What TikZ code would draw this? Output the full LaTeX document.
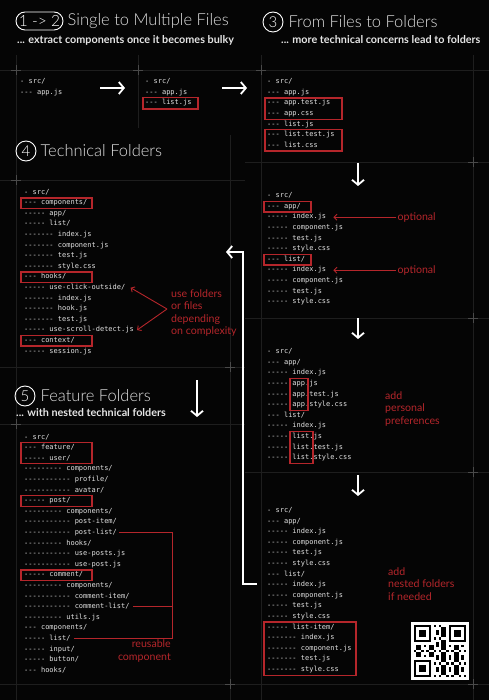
\documentclass[tikz,border=0pt]{standalone}
\usepackage{fontspec}
\usepackage{xcolor}
\usepackage{tikz}
\usetikzlibrary{positioning}
\usetikzlibrary{arrows.meta}

\newfontfamily\codefont{DejaVu Sans Mono}[Ligatures=TeXOff]
\newfontfamily\headfont{Lato Light}
\newfontfamily\notefont{Lato}

\definecolor{bgblack}{HTML}{050505}
\definecolor{codegray}{HTML}{E2E2E2}
\definecolor{markred}{HTML}{B5262B}
\definecolor{gridgray}{HTML}{1E1E1E}
\definecolor{crossgray}{HTML}{4A4A4A}

\begin{document}
\begin{tikzpicture}[
	x=1pt, y=-1pt,
	font=\codefont
]
\tikzset{
	codeline/.style = {anchor=west, inner sep=0pt, text height=5pt, text depth=1.5pt, text=codegray, font=\codefont\fontsize{7}{8}\selectfont},
	redbox/.style = {draw=markred, line width=1.1pt},
	notetext/.style = {text=markred, inner sep=1pt, align=left, font=\notefont\fontsize{10.6}{12.2}\selectfont},
	redarrow/.style = {draw=markred, line width=0.9pt, -{Straight Barb[length=3pt,width=6pt]}},
	redline/.style = {draw=markred, line width=0.9pt},
	whitearrow/.style = {draw=white, line width=1.8pt, -{Straight Barb[length=5pt,width=12pt]}},
	badge/.style = {draw=white, line width=0.9pt, circle, minimum size=20pt, inner sep=0pt, text=white, font=\headfont\fontsize{15}{15}\selectfont},
	pill/.style = {draw=white, line width=0.9pt, rounded corners=9pt, minimum width=47pt, minimum height=18pt, inner sep=0pt, text=white, font=\headfont\fontsize{15.5}{15}\selectfont},
	headtitle/.style = {anchor=west, inner sep=0pt, text=white!88!black, font=\headfont\fontsize{16.5}{18}\selectfont},
	subtitle/.style = {anchor=west, inner sep=0pt, text=white!90!black, font=\notefont\bfseries\fontsize{10.8}{12}\selectfont},
	gridline/.style = {draw=gridgray, line width=0.5pt},
	gridcross/.style = {draw=crossgray, line width=0.5pt}
}
\useasboundingbox (0,0) rectangle (489,700);
\fill[bgblack] (0,0) rectangle (489,700);

% layout grid
\draw[gridline] (0,70) -- (489,70);
\draw[gridline] (245,162) -- (489,162);
\draw[gridline] (0,180) -- (245,180);
\draw[gridline] (245,318) -- (489,318);
\draw[gridline] (0,367) -- (245,367);
\draw[gridline] (0,424) -- (245,424);
\draw[gridline] (245,472) -- (489,472);
\draw[gridline] (0,684) -- (489,684);
\foreach \gx in {16,261,473}
	\draw[gridline] (\gx,55) -- (\gx,700);
\draw[gridline] (138,55) -- (138,128);
\draw[gridline] (230,135) -- (230,700);
\foreach \cx/\cy in {16/70,138/70,261/70,473/162,16/180,473/318,230/367,16/424,473/472,230/684,473/684}
	\draw[gridcross] (\cx,\cy) ++(-5,0) -- ++(10,0) (\cx,\cy) ++(0,-5) -- ++(0,10);

% headings
\node[pill] (b12) at (39.5,21) {1 -> 2};
\node[headtitle, right=4pt of b12] (t12) {Single to Multiple Files};
\node[subtitle] (s12) at (17,40) {... extract components once it becomes bulky};
\node[badge] (b3) at (273,22) {3};
\node[headtitle, right=5pt of b3] (t3) {From Files to Folders};
\node[subtitle] (s3) at (281,40) {... more technical concerns lead to folders};
\node[badge] (b4) at (26,151) {4};
\node[headtitle, right=4pt of b4] (t4) {Technical Folders};
\node[badge] (b5) at (25,396) {5};
\node[headtitle, right=5pt of b5] (t5) {Feature Folders};
\node[subtitle] (s5) at (16,413) {... with nested technical folders};

% step 1 -> 2
\foreach \entry [count=\i] in {- src/, --- app.js}
	\node[codeline] (a-\i) at (20,{82+10.6*(\i-1)}) {\entry};
\foreach \entry [count=\i] in {- src/, --- app.js, --- list.js}
	\node[codeline] (b-\i) at (145,{82+10.6*(\i-1)}) {\entry};
\draw[redbox] (143,97.5) rectangle (198,109);
\coordinate (ar1s) at (100,88);
\coordinate (ar1e) at (125,88);
\coordinate (ar2s) at (222,88);
\coordinate (ar2e) at (247,88);
\draw[whitearrow] (ar1s) -- (ar1e);
\draw[whitearrow] (ar2s) -- (ar2e);

% step 3
\foreach \entry [count=\i] in {- src/, --- app.js, --- app.test.js, --- app.css, --- list.js, --- list.test.js, --- list.css}
	\node[codeline] (c-\i) at (267,{82+10.6*(\i-1)}) {\entry};
\draw[redbox] (265,98) rectangle (342,119.5);
\draw[redbox] (265,129.7) rectangle (342,151);

\coordinate (dn1s) at (358,163);
\coordinate (dn1e) at (358,186);
\draw[whitearrow] (dn1s) -- (dn1e);

\foreach \entry [count=\i] in {- src/, --- app/, ----- index.js, ----- component.js, ----- test.js, ----- style.css, --- list/, ----- index.js, ----- component.js, ----- test.js, ----- style.css}
	\node[codeline] (d-\i) at (267,{196+10.6*(\i-1)}) {\entry};
\draw[redbox] (264,201.5) rectangle (311,212);
\draw[redbox] (264,254.5) rectangle (311,265);
\node[notetext, right=70pt of d-3] (opt1) {optional};
\node[notetext, right=70pt of d-8] (opt2) {optional};
\draw[redarrow] (opt1.west) -- ([xshift=7pt]d-3.east);
\draw[redarrow] (opt2.west) -- ([xshift=7pt]d-8.east);

\coordinate (dn2s) at (358,318);
\coordinate (dn2e) at (358,339);
\draw[whitearrow] (dn2s) -- (dn2e);

\foreach \entry [count=\i] in {- src/, --- app/, ----- index.js, ----- app.js, ----- app.test.js, ----- app.style.css, --- list/, ----- index.js, ----- list.js, ----- list.test.js, ----- list.style.css}
	\node[codeline] (e-\i) at (267,{352+10.6*(\i-1)}) {\entry};
\draw[redbox] (290,378.5) rectangle (308,410.5);
\draw[redbox] (290,431.5) rectangle (313,463.5);
\node[notetext, anchor=west] (pref) at (384,409) {add\\personal\\preferences};

\coordinate (dn3s) at (358,475);
\coordinate (dn3e) at (358,496);
\draw[whitearrow] (dn3s) -- (dn3e);

\foreach \entry [count=\i] in {- src/, --- app/, ----- index.js, ----- component.js, ----- test.js, ----- style.css, --- list/, ----- index.js, ----- component.js, ----- test.js, ----- style.css, ----- list-item/, ------- index.js, ------- component.js, ------- test.js, ------- style.css}
	\node[codeline] (f-\i) at (267,{510.7+10.6*(\i-1)}) {\entry};
\draw[redbox] (264,622) rectangle (356,675.5);
\node[notetext, anchor=west] (nest) at (387,584) {add\\nested folders\\if needed};

% qr code
\fill[white] (411,622) rectangle (469,680);
\foreach \r in {0,...,20}
	\foreach \c in {0,...,20}{
		\pgfmathtruncatemacro{\qbit}{(mod(3*\r*\r+7*\c+5*\r*\c+\c*\c,5)<2)&&!((\r<8)&&(\c<8))&&!((\r<8)&&(\c>12))&&!((\r>12)&&(\c<8))}
		\ifnum\qbit=1 \fill[black] ({413.75+2.5*\c},{624.75+2.5*\r}) rectangle ++(2.5,2.5); \fi
	}
\foreach \fc/\fr in {0/0,14/0,0/14}{
	\fill[black] ({413.75+2.5*\fc},{624.75+2.5*\fr}) rectangle ++(17.5,17.5);
	\fill[white] ({416.25+2.5*\fc},{627.25+2.5*\fr}) rectangle ++(12.5,12.5);
	\fill[black] ({418.75+2.5*\fc},{629.75+2.5*\fr}) rectangle ++(7.5,7.5);
}

% step 4
\foreach \entry [count=\i] in {- src/, --- components/, ----- app/, ----- list/, ------- index.js, ------- component.js, ------- test.js, ------- style.css, --- hooks/, ----- use-click-outside/, ------- index.js, ------- hook.js, ------- test.js, ----- use-scroll-detect.js, --- context/, ----- session.js}
	\node[codeline] (g-\i) at (24,{192.3+10.6*(\i-1)}) {\entry};
\draw[redbox] (21,198) rectangle (92,208.5);
\draw[redbox] (21,272) rectangle (92,282.5);
\draw[redbox] (21,335.5) rectangle (92,346);
\node[notetext, anchor=west] (cplx) at (170,313) {use folders\\or files\\depending\\on complexity};
\coordinate (fork) at (167,309);
\draw[redarrow] (fork) -- ([xshift=5pt]g-10.east);
\draw[redarrow] (fork) -- ([xshift=3pt]g-14.east);

\coordinate (loops) at (257,584);
\coordinate (loope) at (226,252);
\draw[whitearrow] (loops) -- (243,584) -- (243,252) -- (loope);

% step 5
\coordinate (dn4s) at (197,380);
\coordinate (dn4e) at (197,417);
\draw[whitearrow] (dn4s) -- (dn4e);

\foreach \entry [count=\i] in {- src/, --- feature/, ----- user/, --------- components/, ----------- profile/, ----------- avatar/, ----- post/, --------- components/, ----------- post-item/, ----------- post-list/, --------- hooks/, ----------- use-posts.js, ----------- use-post.js, ----- comment/, --------- components/, ----------- comment-item/, ----------- comment-list/, --------- utils.js, --- components/, ----- list/, ----- input/, ----- button/, --- hooks/}
	\node[codeline] (h-\i) at (24,{437.3+10.6*(\i-1)}) {\entry};
\draw[redbox] (21,442.6) rectangle (92,463.8);
\draw[redbox] (21,495.8) rectangle (92,506.4);
\draw[redbox] (21,570) rectangle (92,580.6);
\coordinate (brk) at (172,0);
\draw[redline] ([xshift=2pt]h-10.east) -| (brk |- h-20.east) -- ([xshift=3pt]h-20.east);
\draw[redline] ([xshift=3pt]h-17.east) -- (brk |- h-17.east);
\node[notetext, align=right, anchor=east] (reuse) at (172,651) {reusable\\component};
\end{tikzpicture}
\end{document}
